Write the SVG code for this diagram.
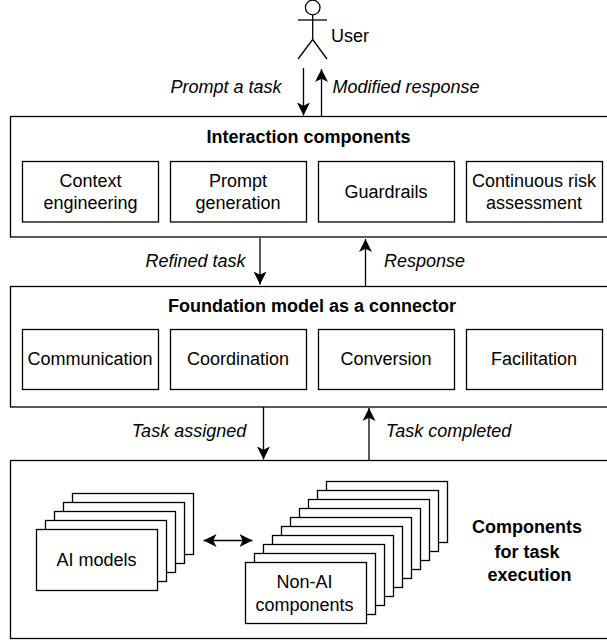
<svg xmlns="http://www.w3.org/2000/svg" width="607" height="640" viewBox="0 0 607 640">
<defs>
<style>
rect{fill:#fff;stroke:#000;stroke-width:1.3}
text{font-family:"Liberation Sans",Arial,sans-serif;font-size:18px;fill:#000;text-anchor:middle}
.b{font-weight:bold}
.i{font-style:italic}
.c line,.u line,.u circle{stroke:#000;stroke-width:1.3;fill:#fff}
</style>
<marker id="a" markerUnits="userSpaceOnUse" markerWidth="16" markerHeight="14" refX="13" refY="6.5" orient="auto-start-reverse"><path d="M0 0L13 6.5L0 13L3.2 6.5Z" fill="#000"/></marker>
</defs>
<g id="user" class="u">
<circle cx="312.7" cy="7.5" r="7.3"/>
<line x1="312.7" y1="15" x2="312.7" y2="39.5"/>
<line x1="298" y1="20" x2="327" y2="20"/>
<line x1="312.7" y1="39.5" x2="298" y2="59"/>
<line x1="312.7" y1="39.5" x2="327" y2="59"/>
<text x="350" y="42">User</text>
</g>
<g id="interaction">
<rect x="10.5" y="116.5" width="600" height="120.5"/>
<text class="b" x="308.5" y="143">Interaction components</text>
</g>
<g id="context"><rect x="22.5" y="161.5" width="136" height="60.5"/><text x="90.5" y="187">Context</text><text x="90.5" y="209">engineering</text></g>
<g id="prompt"><rect x="170.5" y="161.5" width="136" height="60.5"/><text x="238" y="187">Prompt</text><text x="238" y="209">generation</text></g>
<g id="guardrails"><rect x="318.5" y="161.5" width="136" height="60.5"/><text x="386" y="198">Guardrails</text></g>
<g id="risk"><rect x="466.5" y="161.5" width="136" height="60.5"/><text x="534" y="187">Continuous risk</text><text x="534" y="209">assessment</text></g>
<g id="foundation">
<rect x="10.5" y="286.5" width="600" height="120.5"/>
<text class="b" x="312" y="312">Foundation model as a connector</text>
</g>
<g id="communication"><rect x="22.5" y="329.5" width="136" height="60"/><text x="90" y="365">Communication</text></g>
<g id="coordination"><rect x="170.5" y="329.5" width="136" height="60"/><text x="238" y="365">Coordination</text></g>
<g id="conversion"><rect x="318.5" y="329.5" width="136" height="60"/><text x="386" y="365">Conversion</text></g>
<g id="facilitation"><rect x="466.5" y="329.5" width="136" height="60"/><text x="534" y="365">Facilitation</text></g>
<g id="execution">
<rect x="10.5" y="460.5" width="600" height="178"/>
<text class="b" x="527" y="533">Components</text>
<text class="b" x="527" y="558">for task</text>
<text class="b" x="529.5" y="581">execution</text>
</g>
<g id="ai-models">
<rect x="72.5" y="493.5" width="121" height="61"/>
<rect x="63.5" y="502.5" width="121" height="61"/>
<rect x="54.5" y="511.5" width="121" height="61"/>
<rect x="45.5" y="520.5" width="121" height="61"/>
<rect x="36.5" y="529.5" width="121" height="61"/>
<text x="96.5" y="566">AI models</text>
</g>
<g id="non-ai">
<rect x="326.5" y="481.5" width="121" height="61"/>
<rect x="317.5" y="490.5" width="121" height="61"/>
<rect x="308.5" y="499.5" width="121" height="61"/>
<rect x="299.5" y="508.5" width="121" height="61"/>
<rect x="290.5" y="517.5" width="121" height="61"/>
<rect x="281.5" y="526.5" width="121" height="61"/>
<rect x="272.5" y="535.5" width="121" height="61"/>
<rect x="263.5" y="544.5" width="121" height="61"/>
<rect x="254.5" y="553.5" width="121" height="61"/>
<rect x="245.5" y="562.5" width="121" height="61"/>
<text x="304.5" y="588">Non-AI</text>
<text x="304.5" y="611">components</text>
</g>
<g id="connectors" class="c">
<line x1="303.5" y1="68" x2="303.5" y2="115.5" marker-end="url(#a)"/>
<line x1="321.5" y1="116" x2="321.5" y2="69" marker-end="url(#a)"/>
<line x1="260" y1="238" x2="260" y2="284.5" marker-end="url(#a)"/>
<line x1="365.5" y1="286" x2="365.5" y2="239" marker-end="url(#a)"/>
<line x1="263.5" y1="407" x2="263.5" y2="459.5" marker-end="url(#a)"/>
<line x1="369" y1="460" x2="369" y2="408" marker-end="url(#a)"/>
<line x1="203.5" y1="540.5" x2="252.5" y2="540.5" marker-start="url(#a)" marker-end="url(#a)"/>
</g>
<g id="labels">
<text class="i" x="226" y="93">Prompt a task</text>
<text class="i" x="406" y="93">Modified response</text>
<text class="i" x="195.5" y="267">Refined task</text>
<text class="i" x="424.5" y="267">Response</text>
<text class="i" x="189" y="437">Task assigned</text>
<text class="i" x="448.5" y="437">Task completed</text>
</g>
</svg>
